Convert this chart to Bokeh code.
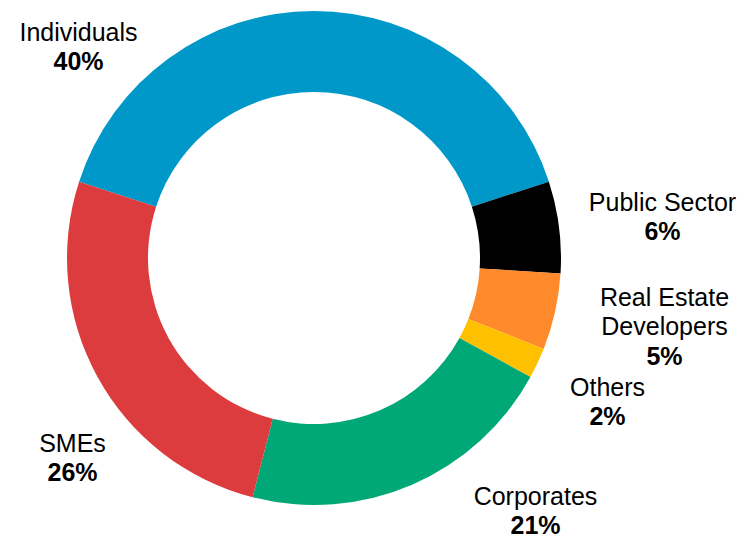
import math
from bokeh.plotting import figure
from bokeh.models import Range1d, ColumnDataSource
from bokeh.core.properties import value
from bokeh.embed import file_html
from bokeh.resources import INLINE

# Data
categories = ["Individuals", "Public Sector", "Real Estate\nDevelopers", "Others", "Corporates", "SMEs"]
shares = [40, 6, 5, 2, 21, 26]
colors = ["#0098C9", "#000000", "#FF8A2B", "#FFC000", "#00A878", "#DC3C3D"]

# Layout (pixel coordinates in the picture)
W, H = 744, 538
cx, cy = 313.5, 257.5
r_out, r_in = 247, 166
label_pos = [(78, 31), (662, 201), (664, 296), (607, 386), (535, 495), (72, 442)]
line_gap = 29.5

p = figure(width=W, height=H, output_backend="svg", toolbar_location=None,
           x_range=Range1d(0, W), y_range=Range1d(0, H), min_border=0)
p.axis.visible = False
p.grid.visible = False
p.outline_line_color = None
p.background_fill_color = "white"
p.border_fill_color = "white"

def Y(sy):
    return H - sy

total = sum(shares)
start = math.radians(90 + 180 * shares[0] / total)
starts, ends = [], []
a = start
for v in shares:
    starts.append(a)
    a = a - 2 * math.pi * v / total
    ends.append(a)

src = ColumnDataSource(dict(start=starts, end=ends, color=colors))
p.annular_wedge(x=cx, y=Y(cy), inner_radius=r_in, outer_radius=r_out,
                start_angle="start", end_angle="end", direction="clock",
                fill_color="color", line_color=None, source=src)

nx, ny, nt, px, py, pt = [], [], [], [], [], []
for cat, v, (lx, ly) in zip(categories, shares, label_pos):
    lines = cat.split("\n")
    for i, ln in enumerate(lines):
        nx.append(lx); ny.append(Y(ly + i * line_gap)); nt.append(ln)
    px.append(lx); py.append(Y(ly + len(lines) * line_gap)); pt.append(f"{v}%")

p.text(x=nx, y=ny, text=nt, text_align="center", text_baseline="middle",
       text_font=value("Liberation Sans"), text_font_size="25px", text_color="black")
p.text(x=px, y=py, text=pt, text_align="center", text_baseline="middle",
       text_font=value("Liberation Sans"), text_font_size="25px", text_font_style="bold",
       text_color="black")

open("out.html", "w").write(file_html(p, INLINE))
